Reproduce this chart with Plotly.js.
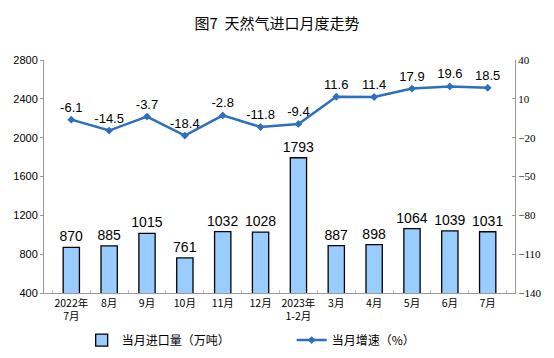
<!DOCTYPE html>
<html><head><meta charset="utf-8">
<script src="https://cdn.plot.ly/plotly-3.0.1.min.js"></script>
<style>html,body{margin:0;padding:0;background:#fff}#c{width:554px;height:358px}</style>
</head><body><div id="c"></div>
<script>
const categories = ["2022年<br>7月","8月","9月","10月","11月","12月","2023年<br>1-2月","3月","4月","5月","6月","7月"];
const importVolume = [870, 885, 1015, 761, 1032, 1028, 1793, 887, 898, 1064, 1039, 1031];
const growthRate = [-6.1, -14.5, -3.7, -18.4, -2.8, -11.8, -9.4, 11.6, 11.4, 17.9, 19.6, 18.5];
const leftTicks = [400, 800, 1200, 1600, 2000, 2400, 2800];
const rightTicks = [-140, -110, -80, -50, -20, 10, 40];

const cjk = '"Noto Sans CJK SC", sans-serif';
const traces = [
  {type:'bar', x:categories, y:importVolume, name:'当月进口量（万吨）',
   marker:{color:'#99CCFF', line:{color:'#000', width:1.3}},
   text:importVolume.map(String), textposition:'outside', cliponaxis:false, constraintext:'none',
   textfont:{family:'Liberation Sans, Arial', size:14, color:'#000'}, hoverinfo:'skip'},
  {type:'scatter', mode:'lines+markers+text', x:categories, y:growthRate, yaxis:'y2', name:'当月增速（%）',
   line:{color:'#2E6EBF', width:2.5}, marker:{symbol:'diamond', size:6, color:'#2E6EBF'},
   text:growthRate.map(v=>v.toFixed(1)), textposition:'top center', cliponaxis:false,
   textfont:{family:'Liberation Sans, Arial', size:13, color:'#000'}, hoverinfo:'skip'}
];
const layout = {
  width:554, height:358,
  margin:{l:44, r:39, t:60, b:65, autoexpand:false},
  paper_bgcolor:'#fff', plot_bgcolor:'#fff',
  title:{text:'图7  天然气进口月度走势', x:0.5, xanchor:'center', y:0.935, yanchor:'middle',
         font:{family:cjk, size:15, color:'#000'}},
  bargap:0.57,
  showlegend:true,
  legend:{orientation:'h', x:0.08, xanchor:'left', y:-0.14, yanchor:'top',
          font:{family:cjk, size:12, color:'#000'}, entrywidth:165, entrywidthmode:'pixels',
          tracegroupgap:0, traceorder:'normal'},
  xaxis:{type:'category', showgrid:false, showline:true, linecolor:'#999', linewidth:1, automargin:false,
         ticks:'inside', tickson:'boundaries', ticklen:3, tickcolor:'#bbb', tickangle:0,
         tickfont:{family:cjk, size:10.5, color:'#000'}, fixedrange:true},
  yaxis:{range:[400,2800], tickvals:leftTicks, showgrid:false, zeroline:false, showline:true, automargin:false,
         linecolor:'#999', ticks:'outside', ticklen:3, tickcolor:'#999',
         tickfont:{family:'Liberation Sans, Arial', size:11, color:'#000'}},
  yaxis2:{range:[-140,40], tickvals:rightTicks, overlaying:'y', side:'right', showgrid:false, zeroline:false,
          showline:true, linecolor:'#999', ticks:'inside', ticklen:3, tickcolor:'#999', automargin:false,
          tickfont:{family:'Liberation Serif, Times New Roman', size:11, color:'#000'}}
};
Plotly.newPlot('c', traces, layout, {displayModeBar:false, staticPlot:true});
</script></body></html>
